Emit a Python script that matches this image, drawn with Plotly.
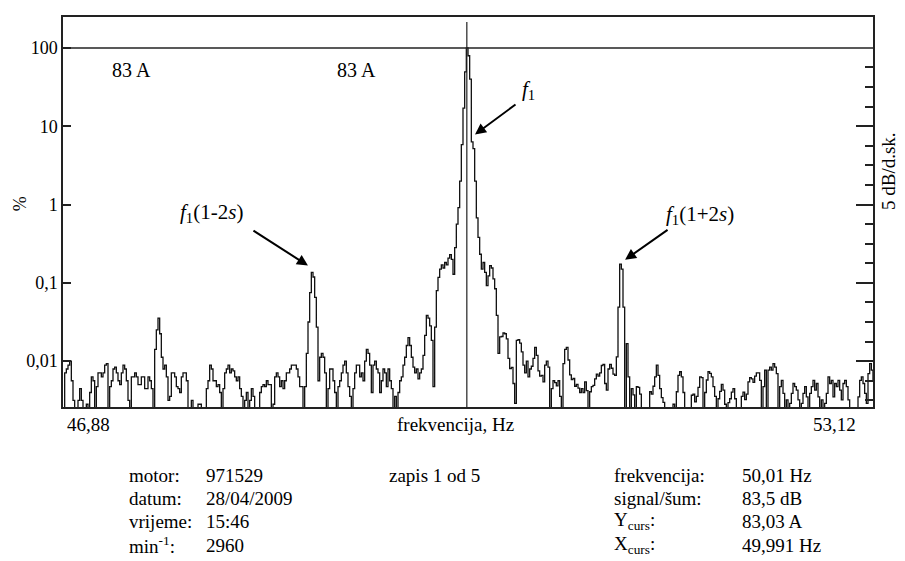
import numpy as np
import plotly.graph_objects as go

# ---------------- data ----------------
f_start, f_stop = 46.88, 53.12          # Hz, span of the spectrum
cursor_freq = 49.991                    # Hz (X_curs)
ref_level = 100                         # % (= 83 A)

# spectrum level in dB relative to 100 % (83 A), one value per bin
level_db = [
    -95, -83, -82, -81, -80, -85, -90, -95, -95, -90, -87, -90, -95, -95, -91, -95, -88, -84, -85, -95,
    -86.5, -83, -83, -84, -83, -81, -80.6, -95, -86.5, -85, -82, -81.5, -83, -85, -86, -83, -81, -82, -85, -90,
    -95, -84, -84, -83, -84, -86, -86, -84, -84, -87, -87, -84, -85, -87, -95, -77, -72, -69, -73, -79,
    -82, -81, -84, -90, -89, -83, -83, -84, -86.5,
    -87, -88, -84, -83, -83, -85, -95, -95, -90, -95, -95, -95, -91, -91, -95, -95, -95, -87, -85, -81,
    -82, -85, -85, -86.5, -86, -88, -95, -87, -83, -82, -81, -83, -82, -82.5, -84, -85, -84, -87, -89, -95,
    -90, -88, -95, -90, -87, -89, -95, -95, -95, -88, -86.5, -86, -86.5, -85, -86, -86, -95, -91, -84, -83,
    -84, -86.5, -85, -87, -85, -83, -83, -82, -81, -81, -81,
    -82, -84, -86.5, -86.5, -95, -86.5, -78, -70, -62.5, -57.3, -58.5, -63.7, -71.3, -85, -79, -78, -79, -83, -95, -87,
    -82, -82, -85, -88, -95, -86.5, -85, -83, -81, -80, -83, -86.5, -89, -95, -87, -83, -81, -81, -84, -83,
    -85, -80, -77, -78, -81, -88, -81, -80, -82, -83, -88, -85, -82, -83, -86.5, -82, -85, -87, -95, -89,
    -95, -88, -85, -84, -81, -79, -76, -74, -76, -79,
    -81.5, -83, -82, -84.5, -83, -82, -78.5, -73.4, -68.3, -69, -71, -74.7, -86.5, -71.3, -62, -58.6, -56.5, -55.4, -56.2, -54.8,
    -55.4, -53.7, -52.8, -54, -57.8, -51, -45, -40.8, -34, -24.7, -15.4, -6.1, 0, -2, -8, -24, -25.7, -34, -43.4, -48.4,
    -52.7, -56.5, -54.8, -57.3, -60.7, -58.2, -55.6, -56.2, -59, -61.5, -68.3, -78, -73.8, -73.7, -72.8, -73, -74.3, -79.3, -81.9, -81.6,
    -85.7, -90.8, -74.7, -74.5, -75.4, -77.6, -81, -83,
    -80, -84, -82, -81.3, -79.3, -76.5, -78.5, -82.5, -83.8, -83.6, -85.3, -81, -80, -81.5, -95, -87, -85, -85.5, -86.3, -85,
    -89, -95, -80.6, -77, -76.5, -79.7, -83.5, -84.7, -84.4, -86.4, -85.9, -86.9, -88, -87, -88, -85.3, -87.5, -95, -87.8, -86.5,
    -86.2, -84.5, -83.3, -83.8, -83, -81.1, -80.8, -85.7, -87.4, -82, -80.8, -81.8, -83.3, -83.6, -78.9, -66.2, -55.2, -56.5, -66.2, -95,
    -75.5, -84, -95, -87, -88.6, -95, -86.5, -86.7, -88.4, -95,
    -95, -95, -95, -95, -87.8, -88.4, -86.4, -84, -81, -83.6, -87, -89.3, -90.5, -95, -95, -95, -95, -95, -91, -95,
    -87.8, -83.6, -82.7, -84, -88, -95, -95, -95, -95, -88.7, -88.4, -90.4, -89, -86.7, -84, -84.2, -95, -88, -84.8, -82.7,
    -83.1, -84, -86.5, -89, -95, -89.6, -87.7, -85.9, -87.4, -91, -95, -90.6, -89.6, -87.9, -87, -89.6, -95, -95, -95, -89,
    -87.9, -89.8, -88.4, -85.3, -84.2, -84.5, -85.4, -83.8, -83,
    -83, -84.9, -95, -86.5, -82.3, -95, -82.3, -81.5, -82.3, -80.6, -81.5, -83.2, -95, -86.5, -84.9, -88.2, -95, -89.9, -95, -90.8,
    -88.2, -85.7, -86.5, -87.4, -89.9, -95, -90.8, -88.2, -86.5, -89.1, -95, -88.2, -86.5, -84.9, -87.4, -85.7, -89.1, -95, -89.9, -95,
    -90.8, -88.2, -84, -85.7, -84.9, -89.1, -85.7, -86.5, -84.9, -87.4, -89.9, -85.7, -84.9, -86.5, -89.9, -95, -95, -95, -95, -95,
    -89.1, -84.9, -84, -85.7, -88.2, -90.8, -83.2, -80.6, -82.3, -84.9,
]

ytick_vals = [100, 10, 1, 0.1, 0.01]
ytick_text = ["100", "10", "1", "0,1", "0,01"]
db_major = [-80, -60, -40, -20]
db_minor = [-90, -85, -75, -70, -65, -55, -50, -45, -35, -30, -25, -15, -10, -5]
y_pct_range = [0.0026, 248]

info_left = [("motor:", "971529"), ("datum:", "28/04/2009"),
             ("vrijeme:", "15:46"), ("min<sup>-1</sup>:", "2960")]
info_right = [("frekvencija:", "50,01 Hz"), ("signal/šum:", "83,5 dB"),
              ("Y<sub>curs</sub>:", "83,03 A"), ("X<sub>curs</sub>:", "49,991 Hz")]
record_text = "zapis 1 od 5"

# ---------------- figure ----------------
freq = np.linspace(f_start, f_stop, len(level_db))
pct = ref_level * 10 ** (np.array(level_db) / 20.0)

FONT = "Liberation Serif"
fs = 18
fs_info = 19

fig = go.Figure()
fig.add_trace(go.Scatter(x=freq, y=pct, mode="lines", line=dict(color="#111", width=1.3, shape="hv"),
                         showlegend=False, hoverinfo="skip"))
# invisible trace so that the dB (right) axis is drawn
fig.add_trace(go.Scatter(x=[f_start], y=[-200], yaxis="y2", mode="markers",
                         marker=dict(opacity=0), showlegend=False, hoverinfo="skip"))

lo, hi = np.log10(y_pct_range[0]), np.log10(y_pct_range[1])
db_lo, db_hi = 20 * (lo - np.log10(ref_level)), 20 * (hi - np.log10(ref_level))

# the page adds an 8 px body margin, so the figure is 8 px smaller and shifted
fig.update_layout(
    width=897, height=553,
    margin=dict(l=55, r=32, t=7, b=154),
    paper_bgcolor="white", plot_bgcolor="white",
    font=dict(family=FONT, size=fs, color="black"),
    xaxis=dict(range=[f_start, f_stop], showticklabels=False, ticks="", showgrid=False, zeroline=False,
               showline=True, mirror=True, linecolor="#222", linewidth=1.5),
    yaxis=dict(type="log", range=[lo, hi], tickvals=ytick_vals, ticktext=ytick_text,
               ticks="inside", ticklen=8, tickwidth=1.5, tickcolor="#222",
               showgrid=False, zeroline=False, showline=True, mirror=True, linecolor="#222", linewidth=1.5,
               tickfont=dict(family=FONT, size=fs, color="black")),
    yaxis2=dict(overlaying="y", side="right", range=[db_lo, db_hi], tickvals=db_major,
                ticks="inside", ticklen=17, tickwidth=1.5, tickcolor="#222", showticklabels=False,
                showgrid=False, zeroline=False, showline=False,
                minor=dict(tickvals=db_minor, ticks="inside", ticklen=8, tickwidth=1.5, tickcolor="#222",
                           showgrid=False)),
)

# reference line (100 %) and cursor line
fig.add_shape(type="line", xref="paper", x0=0, x1=1, yref="y", y0=ref_level, y1=ref_level,
              line=dict(color="#222", width=1.5))
fig.add_shape(type="line", xref="x", x0=cursor_freq, x1=cursor_freq, yref="paper", y0=0, y1=0.987,
              line=dict(color="#222", width=1.2))

def txt(x, y, s, xanchor="center", angle=0, size=fs):
    fig.add_annotation(x=x, y=y, xref="paper", yref="paper", text=s, showarrow=False,
                       xanchor=xanchor, yanchor="middle", textangle=angle,
                       font=dict(family=FONT, size=size, color="black"))

txt(0.085, 0.865, "83 A", size=20)
txt(0.362, 0.865, "83 A", size=20)
txt(0.575, 0.812, "<i>f</i><sub>1</sub>", size=21)
txt(0.183, 0.497, "<i>f</i><sub>1</sub>(1-2<i>s</i>)", size=21)
txt(0.742, 0.492, "<i>f</i><sub>1</sub>(1+2<i>s</i>)", xanchor="left", size=21)

# arrows
def arrow(x, y, ax, ay):
    fig.add_annotation(x=x, y=np.log10(y), xref="x", yref="y", text="", showarrow=True,
                       ax=ax, ay=ay, arrowhead=2, arrowsize=1.1, arrowwidth=2, arrowcolor="black")

arrow(50.054, 7.85, 42, -31)
arrow(48.767, 0.166, -56, -36)
arrow(51.21, 0.197, 44, -31)

# axis texts
txt(0.003, -0.046, "46,88", xanchor="left", size=19)
txt(0.485, -0.046, "frekvencija, Hz", size=19)
txt(0.982, -0.046, "53,12", xanchor="right", size=19)
txt(-0.053, 0.52, "%", angle=-90)
txt(1.0185, 0.605, "5 dB/d.sk.", angle=-90, size=19)

# info block
rows_y = [-0.176, -0.2347, -0.2934, -0.3546]
for (k, v), yy in zip(info_left, rows_y):
    txt(0.079, yy, k, xanchor="left", size=fs_info)
    txt(0.174, yy, v, xanchor="left", size=fs_info)
txt(0.40, rows_y[0], record_text, xanchor="left", size=fs_info)
for (k, v), yy in zip(info_right, rows_y):
    txt(0.678, yy, k, xanchor="left", size=fs_info)
    txt(0.836, yy, v, xanchor="left", size=fs_info)

fig.write_html("out.html")
